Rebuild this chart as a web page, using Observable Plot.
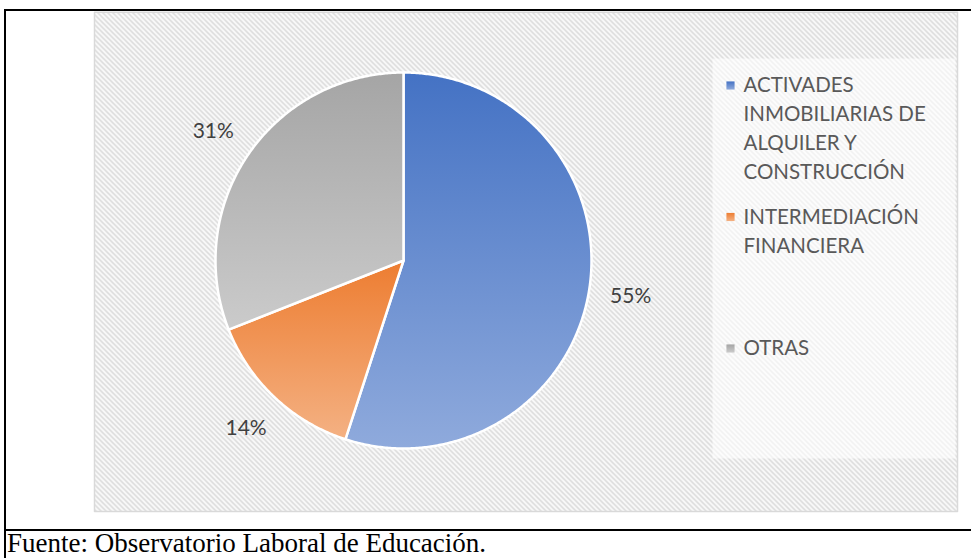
<!DOCTYPE html>
<html>
<head>
<meta charset="utf-8">
<script src="https://cdn.jsdelivr.net/npm/d3@7"></script>
<script src="https://cdn.jsdelivr.net/npm/@observablehq/plot@0.6"></script>
<style>
  html, body { margin: 0; padding: 0; background: #fff; }
  #frame { position: absolute; left: 4px; top: 9px; width: 990px;
           border-top: 2px solid #000; border-left: 2px solid #000; }
  #chart svg { display: block; }
  #caption { border-top: 2px solid #000; height: 40px; padding-left: 1px;
             font-family: "Liberation Serif", "Times New Roman", serif;
             font-size: 27px; line-height: 24px; color: #000; white-space: nowrap; }
</style>
</head>
<body>
<div id="frame">
  <div id="chart"></div>
  <div id="caption">Fuente: Observatorio Laboral de Educación.</div>
</div>
<script>
// ---- data ----
const categories = [
  "ACTIVADES INMOBILIARIAS DE ALQUILER Y CONSTRUCCIÓN",
  "INTERMEDIACIÓN FINANCIERA",
  "OTRAS"
];
const values = [55, 14, 31];
const valueLabels = ["55%", "14%", "31%"];
const legendLines = [
  ["ACTIVADES", "INMOBILIARIAS DE", "ALQUILER Y", "CONSTRUCCIÓN"],
  ["INTERMEDIACIÓN", "FINANCIERA"],
  ["OTRAS"]
];
const topColors = ["#4472C4", "#ED7D31", "#A5A5A5"];
const bottomColors = ["#8FAADC", "#F4B183", "#CBCBCB"];

// ---- layout ----
const W = 965, H = 518;
const cx = 397, cy = 249, r = 188, labelR = 230;
const plotArea = [88, 0.8, 951, 500];
const legendBox = [706, 47, 949, 447];
const legendSquareX = 724, legendTextX = 737;
const legendTop = 74, legendStep = 131.5, lineH = 29;

const rect = ([x0, y0, x1, y1]) => ({
  type: "Polygon",
  coordinates: [[[x0, y0], [x1, y0], [x1, y1], [x0, y1], [x0, y0]]]
});
const pt = (a, rad) => [cx + rad * Math.sin(a), cy - rad * Math.cos(a)];

const arcs = d3.pie().sort(null).value(d => d)(values);
const slices = arcs.map((p, i) => {
  const n = Math.max(4, Math.ceil((p.endAngle - p.startAngle) / (Math.PI / 360)));
  const ring = [[cx, cy]];
  for (let k = 0; k <= n; k++) ring.push(pt(p.startAngle + (p.endAngle - p.startAngle) * k / n, r));
  ring.push([cx, cy]);
  return { type: "Feature", properties: { category: categories[i] },
           geometry: { type: "Polygon", coordinates: [ring] } };
});
const labelData = arcs.map((p, i) => {
  const [x, y] = pt((p.startAngle + p.endAngle) / 2, labelR);
  return { x, y, text: valueLabels[i] };
});
const legendItems = categories.map((c, i) => ({
  category: c, x: legendSquareX, y: legendTop + i * legendStep
}));
const legendText = legendLines.flatMap((lines, i) =>
  lines.map((t, j) => ({ text: t, x: legendTextX, y: legendTop + i * legendStep + j * lineH }))
);

const gradIds = categories.map((_, i) => `url(#grad${i})`);

const chart = Plot.plot({
  width: W,
  height: H,
  margin: 0,
  projection: { type: "identity", domain: { type: "MultiPoint", coordinates: [[0, 0], [W, H]] } },
  color: { type: "ordinal", domain: categories, range: gradIds },
  style: { fontFamily: "Lato, sans-serif", background: "#fff", overflow: "visible" },
  marks: [
    Plot.geo([rect(plotArea)], { fill: "url(#hatch)", stroke: "#d9d9d9", strokeWidth: 1.5 }),
    Plot.geo([rect(legendBox)], { fill: "#ffffff", fillOpacity: 0.6 }),
    Plot.geo(slices, { fill: d => d.properties.category, stroke: "#ffffff", strokeWidth: 2.5, strokeLinejoin: "round" }),
    Plot.text(labelData, { x: "x", y: "y", text: "text", fontSize: 21, fill: "#404040" }),
    Plot.dot(legendItems, { x: "x", y: "y", symbol: "square", r: 4.6, fill: "category", stroke: "none" }),
    Plot.text(legendText, { x: "x", y: "y", text: "text", textAnchor: "start", fontSize: 20.5, fill: "#595959" })
  ]
});

const defs = d3.select(chart).insert("defs", ":first-child");
categories.forEach((_, i) => {
  const g = defs.append("linearGradient").attr("id", `grad${i}`)
    .attr("x1", 0).attr("y1", 0).attr("x2", 0).attr("y2", 1);
  g.append("stop").attr("offset", "0%").attr("stop-color", topColors[i]);
  g.append("stop").attr("offset", "100%").attr("stop-color", bottomColors[i]);
});
const pat = defs.append("pattern").attr("id", "hatch")
  .attr("patternUnits", "userSpaceOnUse").attr("width", 5).attr("height", 5);
pat.append("rect").attr("width", 5).attr("height", 5).attr("fill", "#ffffff");
pat.append("path").attr("d", "M-1,-1L6,6M-1,4L1,6M4,-1L6,1")
  .attr("stroke", "#d9d9d9").attr("stroke-width", 1.7).attr("fill", "none");

document.getElementById("chart").appendChild(chart);
</script>
</body>
</html>
